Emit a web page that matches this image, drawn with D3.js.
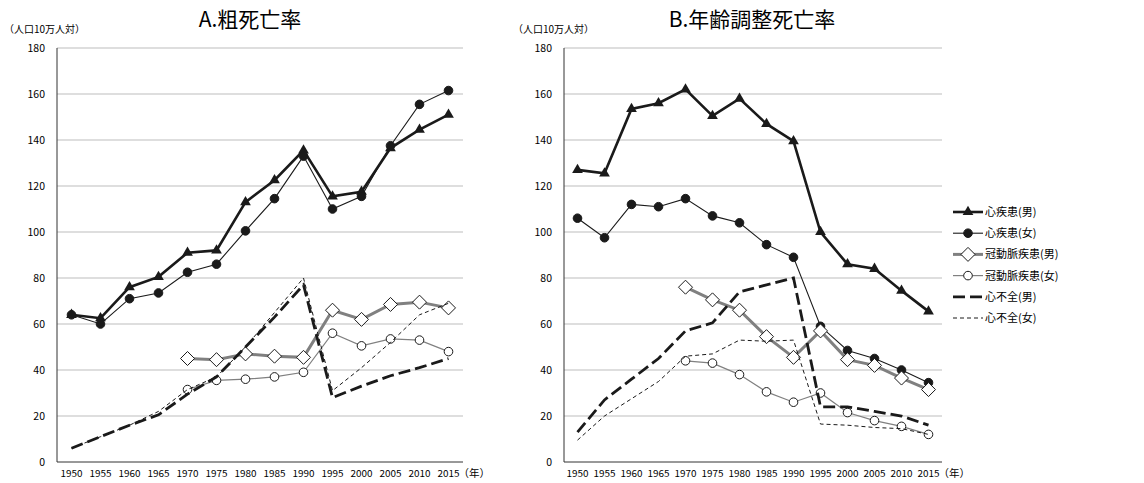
<!DOCTYPE html>
<html><head><meta charset="utf-8">
<script src="https://cdn.jsdelivr.net/npm/d3@7"></script>
<style>body{margin:0;background:#fff}text{font-family:"Noto Sans CJK JP",sans-serif}</style>
</head><body><svg id="c" width="1144" height="483"></svg>
<script>
// chart data
const years = [1950,1955,1960,1965,1970,1975,1980,1985,1990,1995,2000,2005,2010,2015];
const yTicks = [0,20,40,60,80,100,120,140,160,180];
const seriesNames = ["心疾患(男)","心疾患(女)","冠動脈疾患(男)","冠動脈疾患(女)","心不全(男)","心不全(女)"];

const crudeHeartM = [64,62.5,76,80.5,91,92,113,122.5,135.5,115.5,117.5,136.5,144.5,151];
const crudeHeartF = [64,60,71,73.5,82.5,86,100.5,114.5,133,110,115.5,137.5,155.5,161.5];
const crudeChdM = [null,null,null,null,45,44.5,47,46,45.5,66,62,68.5,69.5,67];
const crudeChdF = [null,null,null,null,31.5,35.5,36,37,39,56,50.5,53.5,53,48];
const crudeHfM = [6,11,16,20.5,29.5,37,50,63,77,28,33,37.5,41,45];
const crudeHfF = [6,11,16,22,31.5,37,50,65,80,31,41,52,64,69];

const adjHeartM = [127,125.5,153.5,156,162,150.5,158,147,139.5,100,86,84,74.5,65.5];
const adjHeartF = [106,97.5,112,111,114.5,107,104,94.5,89,59,48.5,45,40,34.5];
const adjChdM = [null,null,null,null,76,70.5,66,54.5,45.5,57,44.5,42,36.5,31.5];
const adjChdF = [null,null,null,null,44,43,38,30.5,26,30,21.5,18,15.5,12];
const adjHfM = [13,27,36,45,57,60.5,74,77,80,24,24,22,20,16];
const adjHfF = [9.5,20,27.5,35,46,47,53,52.5,53,16.5,16,15,14.5,12];

const styles = [
  {stroke:"#1a1a1a", w:2.6, dash:null, marker:"tri", fill:"#1a1a1a"},
  {stroke:"#1a1a1a", w:1.1, dash:null, marker:"circle", fill:"#1a1a1a"},
  {stroke:"#808080", w:3, dash:null, marker:"diamond", fill:"#fff"},
  {stroke:"#808080", w:1.2, dash:null, marker:"circle", fill:"#fff"},
  {stroke:"#1a1a1a", w:2.8, dash:"12,5", marker:null},
  {stroke:"#1a1a1a", w:1, dash:"4,3", marker:null}
];

const svg = d3.select("#c");

function drawMarker(g, type, x, y, fill) {
  if (type === "tri") {
    g.append("path").attr("d", d3.symbol(d3.symbolTriangle, 50)()).attr("transform", `translate(${x},${y})`).attr("fill", fill);
  } else if (type === "circle") {
    g.append("circle").attr("cx", x).attr("cy", y).attr("r", 4.3).attr("fill", fill).attr("stroke", "#1a1a1a").attr("stroke-width", 1);
  } else if (type === "diamond") {
    g.append("path").attr("d", "M0,-7L7,0L0,7L-7,0Z").attr("transform", `translate(${x},${y})`).attr("fill", fill).attr("stroke", "#1a1a1a").attr("stroke-width", 1);
  }
}

function chart(left, right, title, titleX, unitX, series) {
  const x = d3.scalePoint().domain(years).range([left, right]).padding(0.5);
  const y = d3.scaleLinear().domain([0, 180]).range([462, 48]);
  const g = svg.append("g");
  g.selectAll("line.grid").data(yTicks.slice(1)).enter().append("line")
    .attr("x1", left).attr("x2", right).attr("y1", d => y(d)).attr("y2", d => y(d))
    .attr("stroke", "#bdbdbd").attr("stroke-width", 1.2);
  g.append("line").attr("x1", left).attr("x2", left).attr("y1", 48).attr("y2", 462).attr("stroke", "#333");
  g.append("line").attr("x1", left).attr("x2", right).attr("y1", 462).attr("y2", 462).attr("stroke", "#333");
  g.selectAll("text.yt").data(yTicks).enter().append("text")
    .attr("x", left - 12).attr("y", d => y(d) + 4).attr("text-anchor", "end").attr("font-size", 10.5).text(d => d);
  g.selectAll("text.xt").data(years).enter().append("text")
    .attr("x", d => x(d)).attr("y", 477).attr("text-anchor", "middle").attr("font-size", 9.5)
    .attr("textLength", 22).attr("lengthAdjust", "spacingAndGlyphs").text(d => d);
  g.append("text").attr("x", x(2015) + 10).attr("y", 477).attr("font-size", 10.5).text("（年）");
  g.append("text").attr("x", titleX).attr("y", 27).attr("text-anchor", "middle").attr("font-size", 21).text(title);
  g.append("text").attr("x", unitX).attr("y", 33).attr("font-size", 10).text("（人口10万人対）");

  series.forEach((vals, i) => {
    const s = styles[i];
    const pts = years.map((yr, j) => [yr, vals[j]]).filter(p => p[1] != null);
    const line = d3.line().x(p => x(p[0])).y(p => y(p[1]));
    g.append("path").attr("d", line(pts)).attr("fill", "none").attr("stroke", s.stroke)
      .attr("stroke-width", s.w).attr("stroke-dasharray", s.dash);
    if (s.marker) pts.forEach(p => drawMarker(g, s.marker, x(p[0]), y(p[1]), s.fill));
  });
}

chart(57, 463, "A.粗死亡率", 250, 4, [crudeHeartM, crudeHeartF, crudeChdM, crudeChdF, crudeHfM, crudeHfF]);
chart(564, 942, "B.年齢調整死亡率", 752, 513, [adjHeartM, adjHeartF, adjChdM, adjChdF, adjHfM, adjHfF]);

// legend
const lg = svg.append("g");
seriesNames.forEach((name, i) => {
  const s = styles[i];
  const yy = 212 + i * 21.2;
  lg.append("line").attr("x1", 953).attr("x2", 983).attr("y1", yy).attr("y2", yy)
    .attr("stroke", s.stroke).attr("stroke-width", s.w).attr("stroke-dasharray", s.dash);
  if (s.marker) drawMarker(lg, s.marker, 968, yy, s.fill);
  lg.append("text").attr("x", 985).attr("y", yy + 4).attr("font-size", 11).text(name);
});
</script></body></html>
